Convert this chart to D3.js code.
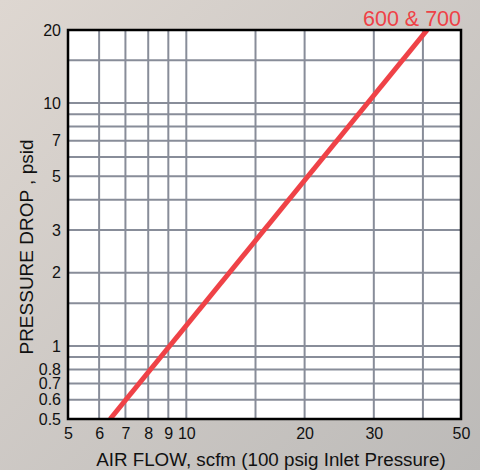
<!DOCTYPE html>
<html>
<head>
<meta charset="utf-8">
<script src="https://cdn.jsdelivr.net/npm/d3@7"></script>
<style>
html,body{margin:0;padding:0;}
svg{display:block;font-family:"Liberation Sans",Arial,sans-serif;}
</style>
</head>
<body>
<svg id="chart" width="480" height="470"></svg>
<script>
// ---- data ----
const xTickLabels = [5, 6, 7, 8, 9, 10, 20, 30, 50];
const yTickLabels = [0.5, 0.6, 0.7, 0.8, 1, 2, 3, 5, 7, 10, 20];
const xGrid = [6, 7, 8, 9, 10, 15, 20, 30, 40];
const yGrid = [0.6, 0.7, 0.8, 0.9, 1, 1.5, 2, 3, 4, 5, 6, 7, 8, 9, 10, 15];
const seriesName = "600 & 700";
const airFlow = [6.4, 41];
const pressureDrop = [0.5, 20];
const xTitle = "AIR FLOW, scfm (100 psig Inlet Pressure)";
const yTitle = "PRESSURE DROP , psid";

// ---- layout ----
const W = 480, H = 470;
const L = 68, R = 461, T = 30, B = 419;
const svg = d3.select("#chart");

const defs = svg.append("defs");
const grad = defs.append("linearGradient").attr("id","bg")
  .attr("x1","0").attr("y1","0").attr("x2","1").attr("y2","1");
grad.append("stop").attr("offset","0%").attr("stop-color","#ded7d1");
grad.append("stop").attr("offset","100%").attr("stop-color","#bcbab8");
defs.append("clipPath").attr("id","clip").append("rect")
  .attr("x",L).attr("y",T).attr("width",R-L).attr("height",B-T);

svg.append("rect").attr("width",W).attr("height",H).attr("fill","url(#bg)");

const x = d3.scaleLog().domain([5,50]).range([L,R]);
const y = d3.scaleLog().domain([0.5,20]).range([B,T]);

// plot background
svg.append("rect").attr("x",L).attr("y",T).attr("width",R-L).attr("height",B-T).attr("fill","#ffffff");

// grid
const grid = svg.append("g").attr("stroke","#888d99").attr("stroke-width",2);
grid.selectAll("line.v").data(xGrid).join("line").attr("class","v")
  .attr("x1",d=>x(d)).attr("x2",d=>x(d)).attr("y1",T).attr("y2",B);
grid.selectAll("line.h").data(yGrid).join("line").attr("class","h")
  .attr("y1",d=>y(d)).attr("y2",d=>y(d)).attr("x1",L).attr("x2",R);

// series line
const pts = airFlow.map((q,i)=>[q,pressureDrop[i]]);
svg.append("path").datum(pts)
  .attr("clip-path","url(#clip)")
  .attr("fill","none").attr("stroke","#ef4247").attr("stroke-width",5)
  .attr("d", d3.line().x(d=>x(d[0])).y(d=>y(d[1])));

// border
svg.append("rect").attr("x",L).attr("y",T).attr("width",R-L).attr("height",B-T)
  .attr("fill","none").attr("stroke","#000").attr("stroke-width",2.5);

// axes
const fmt = d=>String(d);
const xAxis = svg.append("g").attr("transform",`translate(0,${B})`)
  .call(d3.axisBottom(x).tickValues(xTickLabels).tickFormat(fmt).tickSize(0).tickPadding(9));
const yAxis = svg.append("g").attr("transform",`translate(${L},0)`)
  .call(d3.axisLeft(y).tickValues(yTickLabels).tickFormat(fmt).tickSize(0).tickPadding(7));
[xAxis,yAxis].forEach(a=>{
  a.select(".domain").remove();
  a.selectAll("text").attr("font-size",16).attr("fill","#111")
    .attr("font-family","'Liberation Sans',Arial,sans-serif");
});

// series label
svg.append("text").attr("x",R).attr("y",26).attr("text-anchor","end")
  .attr("font-size",21.5).attr("fill","#ef4247").text(seriesName);

// axis titles
svg.append("text").attr("x",271).attr("y",466).attr("text-anchor","middle")
  .attr("font-size",18.8).attr("fill","#111").text(xTitle);
svg.append("text").attr("transform",`translate(33,247) rotate(-90)`)
  .attr("text-anchor","middle").attr("font-size",19).attr("fill","#111").text(yTitle);
</script>
</body>
</html>
